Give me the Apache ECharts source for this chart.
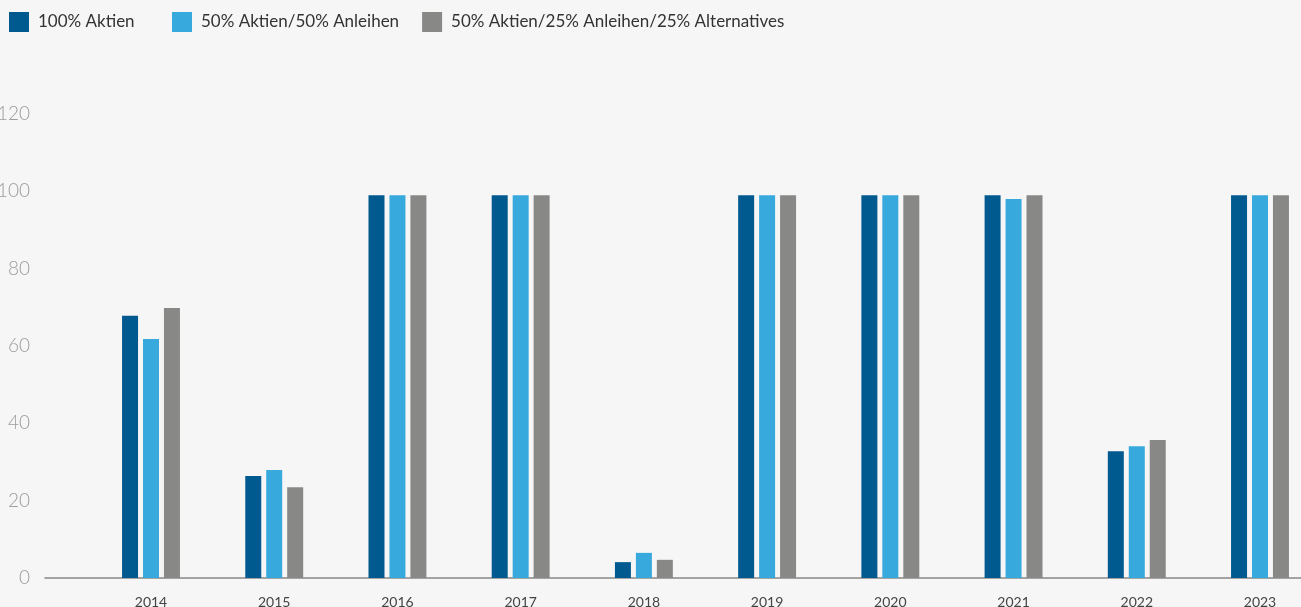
<!DOCTYPE html>
<html>
<head>
<meta charset="utf-8">
<script src="https://cdn.jsdelivr.net/npm/echarts@6/dist/echarts.min.js"></script>
<style>
html, body { margin: 0; padding: 0; background: #f6f6f6; }
#chart { width: 1301px; height: 607px; }
</style>
</head>
<body>
<div id="chart"></div>
<script>
const years = ['2014', '2015', '2016', '2017', '2018', '2019', '2020', '2021', '2022', '2023'];
const aktien100 = [67.8, 26.4, 99, 99, 4.1, 99, 99, 99, 32.8, 99];
const aktien50Anleihen50 = [61.8, 27.9, 99, 99, 6.5, 99, 99, 98, 34.1, 99];
const aktien50Anleihen25Alt25 = [69.8, 23.5, 99, 99, 4.7, 99, 99, 99, 35.7, 99];
const seriesNames = ['100% Aktien', '50% Aktien/50% Anleihen', '50% Aktien/25% Anleihen/25% Alternatives'];
const yTicks = { min: 0, max: 120, interval: 20 };

let myChart = echarts.init(document.getElementById('chart'));

const barStyle = (name, color, data) => ({
    name: name,
    type: 'bar',
    xAxisIndex: 0,
    yAxisIndex: 0,
    barWidth: 16,
    barGap: '31%',
    itemStyle: { color: color },
    data: data
});

const legendStyle = (left, names) => ({
    left: left,
    top: 12,
    padding: 0,
    itemWidth: 20,
    itemHeight: 20,
    itemGap: 23,
    icon: 'rect',
    textStyle: {
        fontFamily: 'Lato',
        fontSize: 17,
        color: '#333',
        padding: [0, 0, 0, 4]
    },
    data: names
});

myChart.setOption({
    backgroundColor: '#f6f6f6',
    animation: false,
    // first entry stands apart from the other two
    legend: [
        legendStyle(9, [seriesNames[0]]),
        legendStyle(172, [seriesNames[1], seriesNames[2]])
    ],
    grid: [
        // bars: category centres on the grid edges
        { left: 151, right: 41, top: 114, bottom: 29, outerBoundsMode: 'none' },
        // baseline and y labels
        { left: 45, right: 0, top: 114, bottom: 29, outerBoundsMode: 'none' }
    ],
    xAxis: [
        {
            type: 'category',
            gridIndex: 0,
            boundaryGap: false,
            data: years,
            axisLine: { show: false },
            axisTick: { show: false },
            axisLabel: {
                fontFamily: 'Lato',
                fontSize: 14,
                color: '#444',
                margin: 17
            }
        },
        {
            type: 'value',
            gridIndex: 1,
            min: 0,
            max: 1,
            axisLine: { show: true, onZero: false, lineStyle: { color: '#888', width: 1.5 } },
            axisTick: { show: false },
            axisLabel: { show: false },
            splitLine: { show: false }
        }
    ],
    yAxis: [
        {
            type: 'value',
            gridIndex: 0,
            min: yTicks.min,
            max: yTicks.max,
            interval: yTicks.interval,
            show: false
        },
        {
            type: 'value',
            gridIndex: 1,
            min: yTicks.min,
            max: yTicks.max,
            interval: yTicks.interval,
            axisLine: { show: false },
            axisTick: { show: false },
            splitLine: { show: false },
            axisLabel: {
                fontFamily: 'Lato',
                fontWeight: 300,
                fontSize: 19,
                color: '#9c9c9c',
                margin: 15
            }
        }
    ],
    series: [
        barStyle(seriesNames[0], '#005a8f', aktien100),
        barStyle(seriesNames[1], '#38a9dc', aktien50Anleihen50),
        barStyle(seriesNames[2], '#888887', aktien50Anleihen25Alt25)
    ]
});
</script>
</body>
</html>
